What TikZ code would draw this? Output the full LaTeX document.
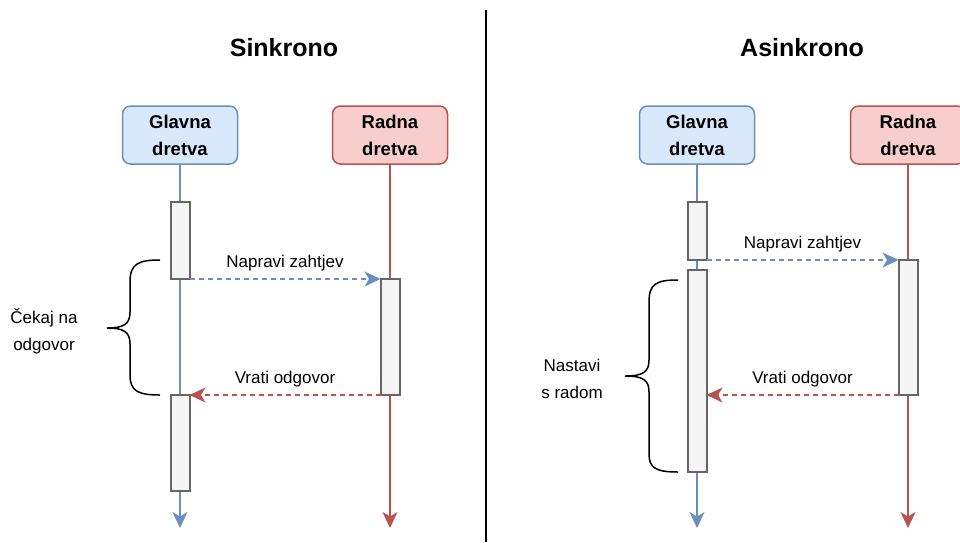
\documentclass[tikz,border=0pt]{standalone}
\usepackage{fontspec}
\setmainfont{Liberation Sans}
\usetikzlibrary{arrows.meta}
\definecolor{blueline}{HTML}{6C8EBF}
\definecolor{bluefill}{HTML}{DAE8FC}
\definecolor{redline}{HTML}{B85450}
\definecolor{redfill}{HTML}{F8CECC}
\definecolor{barline}{HTML}{666666}
\definecolor{barfill}{HTML}{F5F5F5}

\begin{document}
\begin{tikzpicture}[x = 1pt, y = -1pt,
  thread/.style = {draw, line width = 1.5pt, rounded corners = 8pt, minimum width = 115pt, minimum height = 58pt, inner sep = 0pt, outer sep = 0pt, align = center, font = \fontsize{18.5}{27}\selectfont\bfseries},
  bar/.style = {draw = barline, fill = barfill, line width = 2pt, minimum width = 19pt, inner sep = 0pt, outer sep = 0pt, anchor = north},
  lifeline/.style = {line width = 1.5pt, -{Stealth[length = 16pt, width = 15pt, inset = 4.5pt]}},
  message/.style = {line width = 1.5pt, dash pattern = on 5pt off 4pt, -{Stealth[length = 16pt, width = 15pt, inset = 4.5pt]}},
  note/.style = {font = \fontsize{17}{27}\selectfont, align = center, text = black},
  heading/.style = {font = \fontsize{25}{30}\selectfont\bfseries},
  curly/.style = {line width = 1.5pt}]
\useasboundingbox (0, 0) rectangle (960, 542);
\clip (0, 0) rectangle (960, 542);
% Divider
\draw[line width = 2pt] (486, 10) -- (486, 542);
% Titles
\node[heading] (stitle) at (284, 47.5) {Sinkrono};
\node[heading] (atitle) at (802, 47.5) {Asinkrono};
% Sinkrono threads
\node[thread, draw = blueline, fill = bluefill] (sgl) at (180, 135) {Glavna\\dretva};
\node[thread, draw = redline, fill = redfill] (srd) at (390, 135) {Radna\\dretva};
\coordinate (sglend) at (180, 528);
\coordinate (srdend) at (390, 528);
\draw[lifeline, blueline] (sgl.south) -- (sglend);
\draw[lifeline, redline] (srd.south) -- (srdend);
\node[bar, minimum height = 77pt] (sg1) at (180, 202) {};
\node[bar, minimum height = 96pt] (sg2) at (180, 395) {};
\node[bar, minimum height = 116pt] (sr1) at (390, 279) {};
\draw[message, blueline] (sg1.south east) -- node[note, above = 4pt] (sreq) {Napravi zahtjev} (sr1.north west);
\draw[message, redline] (sr1.south west) -- node[note, above = 4pt] (sres) {Vrati odgovor} (sg2.north east);
\draw[curly] (160, 260) .. controls (138, 260) and (130, 264) .. (130, 282) -- (130, 312)
  .. controls (130, 324) and (124, 328) .. (107, 328) .. controls (124, 328) and (130, 332) .. (130, 344)
  -- (130, 375) .. controls (130, 391) and (138, 395) .. (160, 395);
\node[note] (swait) at (44, 331) {Čekaj na\\odgovor};
% Asinkrono threads
\node[thread, draw = blueline, fill = bluefill] (agl) at (697, 135) {Glavna\\dretva};
\node[thread, draw = redline, fill = redfill] (ard) at (908, 135) {Radna\\dretva};
\coordinate (aglend) at (697, 528);
\coordinate (ardend) at (908, 528);
\draw[lifeline, blueline] (agl.south) -- (aglend);
\draw[lifeline, redline] (ard.south) -- (ardend);
\node[bar, minimum height = 58pt] (ag1) at (697, 202) {};
\node[bar, minimum height = 202pt] (ag2) at (697, 270) {};
\node[bar, minimum height = 135pt] (ar1) at (908, 260) {};
\draw[message, blueline] (ag1.south east) -- node[note, above = 4pt] (areq) {Napravi zahtjev} (ar1.north west);
\draw[message, redline] (ar1.south west) -- node[note, above = 4pt] (ares) {Vrati odgovor} (ag2.east |- ar1.south west);
\draw[curly] (678, 280) .. controls (656, 280) and (649, 284) .. (649, 302) -- (649, 360)
  .. controls (649, 372) and (643, 376) .. (625, 376) .. controls (643, 376) and (649, 380) .. (649, 392)
  -- (649, 454) .. controls (649, 468) and (656, 472) .. (678, 472);
\node[note] (arun) at (572, 379) {Nastavi\\s radom};
\end{tikzpicture}
\end{document}
